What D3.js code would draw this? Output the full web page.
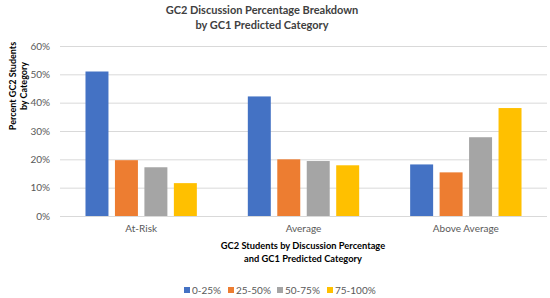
<!DOCTYPE html>
<html>
<head>
<meta charset="utf-8">
<script src="https://cdn.jsdelivr.net/npm/d3@7"></script>
<style>
  body { margin: 0; background: #fff; }
  text { font-family: Lato, "Open Sans", sans-serif; }
</style>
</head>
<body>
<svg id="chart" width="550" height="298"></svg>
<script>
// ---- data ----
const categories = ["At-Risk", "Average", "Above Average"];
const seriesNames = ["0-25%", "25-50%", "50-75%", "75-100%"];
const pct0to25 = [51.0, 42.2, 18.2];
const pct25to50 = [19.7, 20.0, 15.4];
const pct50to75 = [17.2, 19.4, 27.8];
const pct75to100 = [11.6, 17.9, 38.1];
const yTicks = [0, 10, 20, 30, 40, 50, 60];
const colors = ["#4472C4", "#ED7D31", "#A5A5A5", "#FFC000"];

const seriesValues = [pct0to25, pct25to50, pct50to75, pct75to100];
const rows = categories.map((c, i) => {
    const r = { cat: c };
    seriesNames.forEach((s, j) => { r[s] = seriesValues[j][i]; });
    return r;
});

const svg = d3.select("#chart"),
    margin = { top: 46, right: 3, bottom: 82, left: 60 },
    width = 550 - margin.left - margin.right,
    height = 298 - margin.top - margin.bottom;

const chart = svg.append("g")
    .attr("transform", `translate(${margin.left},${margin.top})`);

const x0 = d3.scaleBand()
    .domain(categories)
    .range([0, width])
    .paddingInner(0.314)
    .paddingOuter(0.157);

const x1 = d3.scaleBand()
    .domain(seriesNames)
    .range([0, x0.bandwidth()])
    .paddingInner(0.22)
    .paddingOuter(0);

const y = d3.scaleLinear()
    .domain([0, 60])
    .range([height, 0]);

const color = d3.scaleOrdinal().domain(seriesNames).range(colors);

// gridlines
chart.append("g")
    .selectAll("line")
    .data(yTicks)
    .join("line")
    .attr("x1", 0)
    .attr("x2", width)
    .attr("y1", d => y(d) + 0.5)
    .attr("y2", d => y(d) + 0.5)
    .attr("stroke", "#D9D9D9")
    .attr("stroke-width", 1);

// y tick labels
const yAxis = chart.append("g")
    .call(d3.axisLeft(y).tickValues(yTicks).tickFormat(d => d + "%").tickSize(0).tickPadding(10));
yAxis.select(".domain").remove();
yAxis.selectAll("text")
    .style("font-family", "Lato, sans-serif")
    .style("font-size", "10px")
    .attr("fill", "#595959");

// bars
chart.append("g")
    .selectAll("g")
    .data(rows)
    .join("g")
    .attr("transform", d => `translate(${x0(d.cat)},0)`)
    .selectAll("rect")
    .data(d => seriesNames.map(key => ({ key, value: d[key] })))
    .join("rect")
    .attr("x", d => x1(d.key))
    .attr("y", d => y(d.value))
    .attr("width", x1.bandwidth())
    .attr("height", d => height - y(d.value))
    .attr("fill", d => color(d.key));

// x axis labels
const xAxis = chart.append("g")
    .attr("transform", `translate(0,${height})`)
    .call(d3.axisBottom(x0).tickSize(0).tickPadding(9));
xAxis.select(".domain").remove();
xAxis.selectAll("text")
    .style("font-family", "Lato, sans-serif")
    .style("font-size", "10px")
    .attr("fill", "#595959");

// title
const title = svg.append("text")
    .attr("text-anchor", "middle")
    .style("font-size", "11px")
    .style("font-weight", "bold")
    .attr("fill", "#404040");
title.append("tspan").attr("x", 262).attr("y", 14).text("GC2 Discussion Percentage Breakdown");
title.append("tspan").attr("x", 262).attr("y", 29).text("by GC1 Predicted Category");

// x axis title
const xt = svg.append("text")
    .attr("text-anchor", "middle")
    .style("font-size", "9.3px")
    .style("font-weight", "bold")
    .attr("fill", "#000");
xt.append("tspan").attr("x", 303).attr("y", 249).text("GC2 Students by Discussion Percentage");
xt.append("tspan").attr("x", 303).attr("y", 262).text("and GC1 Predicted Category");

// y axis title
const yt = svg.append("text")
    .attr("transform", "rotate(-90)")
    .attr("text-anchor", "middle")
    .style("font-size", "9px")
    .style("font-weight", "bold")
    .attr("fill", "#000");
yt.append("tspan").attr("x", -86).attr("y", 16).text("Percent GC2 Students");
yt.append("tspan").attr("x", -86).attr("y", 27).text("by Category");

// legend
const legendX = [184, 228, 277, 327];
const legend = svg.append("g");
seriesNames.forEach((key, i) => {
    const g = legend.append("g").attr("transform", `translate(${legendX[i]}, 287)`);
    g.append("rect")
        .attr("width", 6)
        .attr("height", 6)
        .attr("fill", color(key));
    g.append("text")
        .attr("x", 8)
        .attr("y", 6.5)
        .style("font-size", "10px")
        .attr("fill", "#595959")
        .text(key);
});
</script>
</body>
</html>
